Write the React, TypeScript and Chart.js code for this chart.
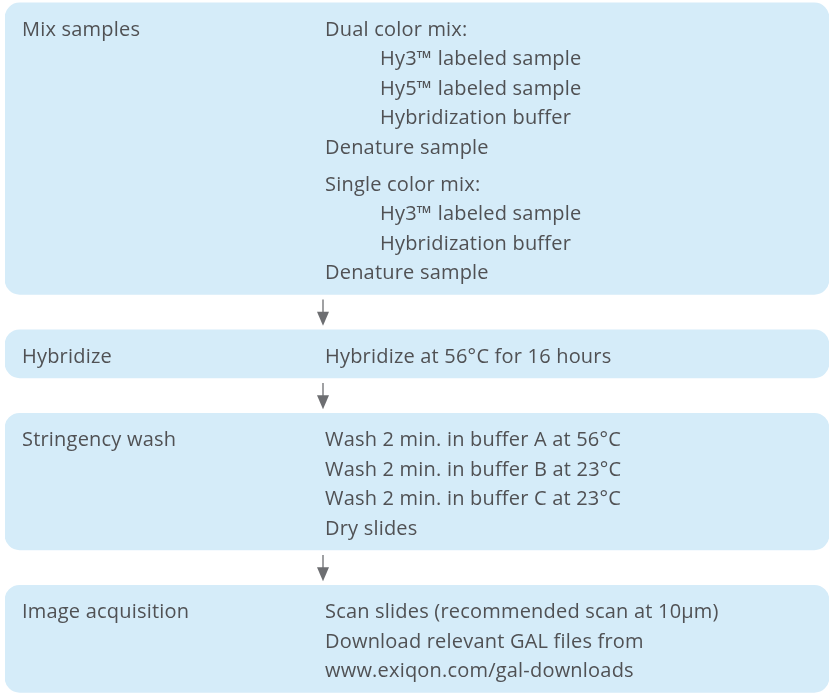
import React, { useEffect, useRef } from "react";
import { Chart, registerables } from "chart.js";

Chart.register(...registerables);

// ---- data ----
const stepTitles = ["Mix samples", "Hybridize", "Stringency wash", "Image acquisition"];

const mixDualLines = ["Dual color mix:", "Hy3™ labeled sample", "Hy5™ labeled sample", "Hybridization buffer", "Denature sample"];
const mixDualIndent = [0, 1, 1, 1, 0];
const mixSingleLines = ["Single color mix:", "Hy3™ labeled sample", "Hybridization buffer", "Denature sample"];
const mixSingleIndent = [0, 1, 1, 0];
const hybridizeLines = ["Hybridize at 56°C for 16 hours"];
const washLines = ["Wash 2 min. in buffer A at 56°C", "Wash 2 min. in buffer B at 23°C", "Wash 2 min. in buffer C at 23°C", "Dry slides"];
const imageLines = ["Scan slides (recommended scan at 10μm)", "Download relevant GAL files from", "www.exiqon.com/gal-downloads"];

const stepGroups: { lines: string[]; indent: number[] }[][] = [
  [{ lines: mixDualLines, indent: mixDualIndent }, { lines: mixSingleLines, indent: mixSingleIndent }],
  [{ lines: hybridizeLines, indent: hybridizeLines.map(() => 0) }],
  [{ lines: washLines, indent: washLines.map(() => 0) }],
  [{ lines: imageLines, indent: imageLines.map(() => 0) }],
];

// ---- layout constants (in line units; 1 unit = one text line) ----
const LINE_PX = 29.5;
const TOTAL_PX = 695;
const TOP_MARGIN = 0.1;
const PAD_T = 0.36;
const PAD_B = 0.27;
const GROUP_GAP = 0.25;
const BOX_GAP = 1.2;
const BASELINE = 0.75;

const BOX_FILL = "#d5ecf9";
const TEXT_COLOR = "#505154";
const ARROW_COLOR = "#6d6e71";
const FONT = '400 20px "Open Sans"';
const LETTER_SPACING = "0.2px";

type Placed = { text: string; indent: number; base: number };

function computeLayout() {
  const ranges: [number, number][] = [];
  const placed: Placed[][] = [];
  let cursor = TOP_MARGIN;
  stepGroups.forEach((groups) => {
    const start = cursor;
    let y = start + PAD_T;
    const items: Placed[] = [];
    groups.forEach((g, gi) => {
      if (gi > 0) y += GROUP_GAP;
      g.lines.forEach((t, li) => {
        items.push({ text: t, indent: g.indent[li], base: y + BASELINE });
        y += 1;
      });
    });
    const end = y + PAD_B;
    ranges.push([start, end]);
    placed.push(items);
    cursor = end + BOX_GAP;
  });
  return { ranges, placed };
}

export default function App() {
  const ref = useRef<HTMLCanvasElement | null>(null);

  useEffect(() => {
    document.body.style.margin = "0";
    const canvas = ref.current;
    if (!canvas) return;
    const { ranges, placed } = computeLayout();

    const textPlugin = {
      id: "flowText",
      afterDatasetsDraw(chart: any) {
        const ctx = chart.ctx;
        const ys = chart.scales.y;
        const area = chart.chartArea;
        const leftX = area.left + 17;
        const rightX = area.left + 320;
        const indentX = rightX + 55;
        ctx.save();
        ctx.font = FONT;
        try { (ctx as any).letterSpacing = LETTER_SPACING; } catch (e) {}
        ctx.fillStyle = TEXT_COLOR;
        ctx.textBaseline = "alphabetic";
        ctx.textAlign = "left";
        placed.forEach((items, i) => {
          ctx.fillText(stepTitles[i], leftX, ys.getPixelForValue(items[0].base));
          items.forEach((it) => {
            ctx.fillText(it.text, it.indent ? indentX : rightX, ys.getPixelForValue(it.base));
          });
        });
        // arrows between boxes
        const ax = rightX - 2;
        ctx.strokeStyle = ARROW_COLOR;
        ctx.fillStyle = ARROW_COLOR;
        ctx.lineWidth = 1.3;
        for (let i = 0; i < ranges.length - 1; i++) {
          const y0 = ys.getPixelForValue(ranges[i][1]) + 5;
          const y1 = ys.getPixelForValue(ranges[i + 1][0]) - 4;
          const headH = 14;
          ctx.beginPath();
          ctx.moveTo(ax, y0);
          ctx.lineTo(ax, y1 - headH + 1);
          ctx.stroke();
          ctx.beginPath();
          ctx.moveTo(ax - 6, y1 - headH);
          ctx.lineTo(ax + 6, y1 - headH);
          ctx.lineTo(ax, y1);
          ctx.closePath();
          ctx.fill();
        }
        ctx.restore();
      },
    };

    const chart = new Chart(canvas, {
      type: "bar",
      data: {
        labels: ["steps"],
        datasets: ranges.map((r, i) => ({
          label: stepTitles[i],
          data: [r] as any,
          backgroundColor: BOX_FILL,
          borderWidth: 0,
          borderRadius: 15,
          borderSkipped: false,
          grouped: false,
          barPercentage: 1,
          categoryPercentage: 1,
        })),
      },
      options: {
        animation: false,
        responsive: false,
        devicePixelRatio: 1,
        events: [],
        layout: { padding: { left: 5, right: 1, top: 0, bottom: 0 } },
        plugins: { legend: { display: false }, tooltip: { enabled: false } },
        scales: {
          x: { display: false },
          y: { display: false, reverse: true, min: 0, max: TOTAL_PX / LINE_PX },
        },
      },
      plugins: [textPlugin],
    });
    return () => chart.destroy();
  }, []);

  return (
    <div style={{ width: 830, height: 695 }}>
      <canvas ref={ref} width={830} height={695} style={{ display: "block" }} />
    </div>
  );
}
